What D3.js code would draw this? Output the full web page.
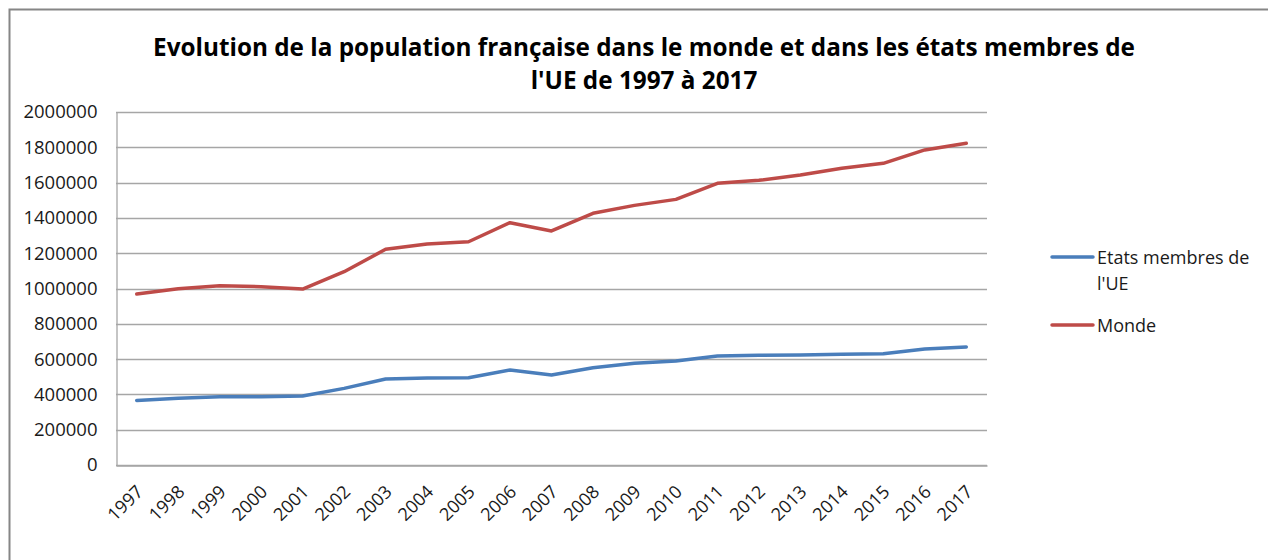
<!DOCTYPE html>
<html>
<head>
<meta charset="utf-8">
<script src="https://cdn.jsdelivr.net/npm/d3@7"></script>
<style>
  body { margin: 0; background: #fff; }
  text { font-family: "Open Sans", Lato, sans-serif; }
</style>
</head>
<body>
<div id="chart"></div>
<script>
// data
const years = ["1997","1998","1999","2000","2001","2002","2003","2004","2005","2006","2007",
  "2008","2009","2010","2011","2012","2013","2014","2015","2016","2017"]
const ueValues = [366000, 378000, 387000, 387000, 391000, 434000, 487000, 493000, 494000, 538000, 510000,
  551000, 576000, 589000, 618000, 622000, 623000, 628000, 630000, 657000, 669000]
const mondeValues = [969000, 998000, 1016000, 1010000, 997000, 1095000, 1222000, 1252000, 1265000, 1373000, 1326000,
  1426000, 1471000, 1505000, 1596000, 1613000, 1643000, 1681000, 1709000, 1785000, 1823000]
const yTicks = [0, 200000, 400000, 600000, 800000, 1000000, 1200000, 1400000, 1600000, 1800000, 2000000]
const seriesNames = ["Etats membres de l'UE", "Monde"]
const titleLines = ["Evolution de la population française dans le monde et dans les états membres de",
  "l'UE de 1997 à 2017"]

const width = 1268, height = 560
const margin = {left: 116, right: 281, top: 112, bottom: 95}

const svg = d3.select("#chart").append("svg")
    .attr("width", width)
    .attr("height", height)

// outer chart frame (right and bottom sides sit off the picture)
svg.append("rect")
    .attr("x", 9.5).attr("y", 9.5)
    .attr("width", 1300).attr("height", 600)
    .attr("fill", "none")
    .attr("stroke", "#868686")
    .attr("stroke-width", 2)

const x = d3.scaleBand()
    .domain(years)
    .range([margin.left, width - margin.right])

const y = d3.scaleLinear()
    .domain([0, 2000000])
    .range([height - margin.bottom, margin.top])

// grid
svg.append("g")
    .selectAll("line")
    .data(yTicks)
    .enter().append("line")
    .attr("x1", margin.left)
    .attr("x2", width - margin.right)
    .attr("y1", d => Math.round(y(d)) + 0.5)
    .attr("y2", d => Math.round(y(d)) + 0.5)
    .attr("stroke", "#a6a6a6")
    .attr("stroke-width", 1.3)

// y axis
const yAxis = svg.append("g")
    .attr("transform", `translate(${margin.left + 0.5},0)`)
    .call(d3.axisLeft(y).tickValues(yTicks).tickFormat(d3.format("d")).tickSize(0).tickPadding(19))
yAxis.select(".domain").attr("stroke", "#a6a6a6").attr("stroke-width", 1.3)
yAxis.selectAll("text")
    .style("font-size", "18.5px")
    .attr("fill", "#1a1a1a")

// x axis
const xAxis = svg.append("g")
    .attr("transform", `translate(0,${Math.round(y(0)) + 0.5})`)
    .call(d3.axisBottom(x).tickSize(0).tickPadding(0))
xAxis.select(".domain").attr("stroke", "#a6a6a6").attr("stroke-width", 1.3)
xAxis.selectAll("text")
    .style("font-size", "18px")
    .attr("fill", "#1a1a1a")
    .attr("text-anchor", "end")
    .attr("dy", "0.35em")
    .attr("y", 0)
    .attr("transform", "translate(3,23) rotate(-45)")

const line = d3.line()
    .x((d, i) => x(years[i]) + x.bandwidth() / 2)
    .y(d => y(d))

const colors = ["#4a7ebb", "#be4b48"]
const series = [ueValues, mondeValues]

svg.append("g")
    .selectAll("path")
    .data(series)
    .enter().append("path")
    .attr("d", line)
    .attr("fill", "none")
    .attr("stroke", (d, i) => colors[i])
    .attr("stroke-width", 3.5)
    .attr("stroke-linejoin", "round")
    .attr("stroke-linecap", "round")

// title
const title = svg.append("text")
    .attr("text-anchor", "middle")
    .style("font-size", "24.3px")
    .style("font-weight", "bold")
    .attr("fill", "#000")
title.selectAll("tspan")
    .data(titleLines)
    .enter().append("tspan")
    .attr("x", 644)
    .attr("y", (d, i) => 56 + i * 33)
    .text(d => d)

// legend
const legend = svg.append("g")
const legendY = [257, 325]
legend.selectAll("line")
    .data(seriesNames)
    .enter().append("line")
    .attr("x1", 1052).attr("x2", 1093)
    .attr("y1", (d, i) => legendY[i]).attr("y2", (d, i) => legendY[i])
    .attr("stroke", (d, i) => colors[i])
    .attr("stroke-width", 3.5)
    .attr("stroke-linecap", "round")

const legendText = legend.append("g").selectAll("text")
    .data([["Etats membres de", "l'UE"], ["Monde"]])
    .enter().append("text")
    .attr("fill", "#1a1a1a")
    .style("font-size", "18px")
legendText.selectAll("tspan")
    .data((d, i) => d.map(t => ({t, i})))
    .enter().append("tspan")
    .attr("x", 1097)
    .attr("y", (d, j) => legendY[d.i] + 7 + j * 26)
    .text(d => d.t)
</script>
</body>
</html>
